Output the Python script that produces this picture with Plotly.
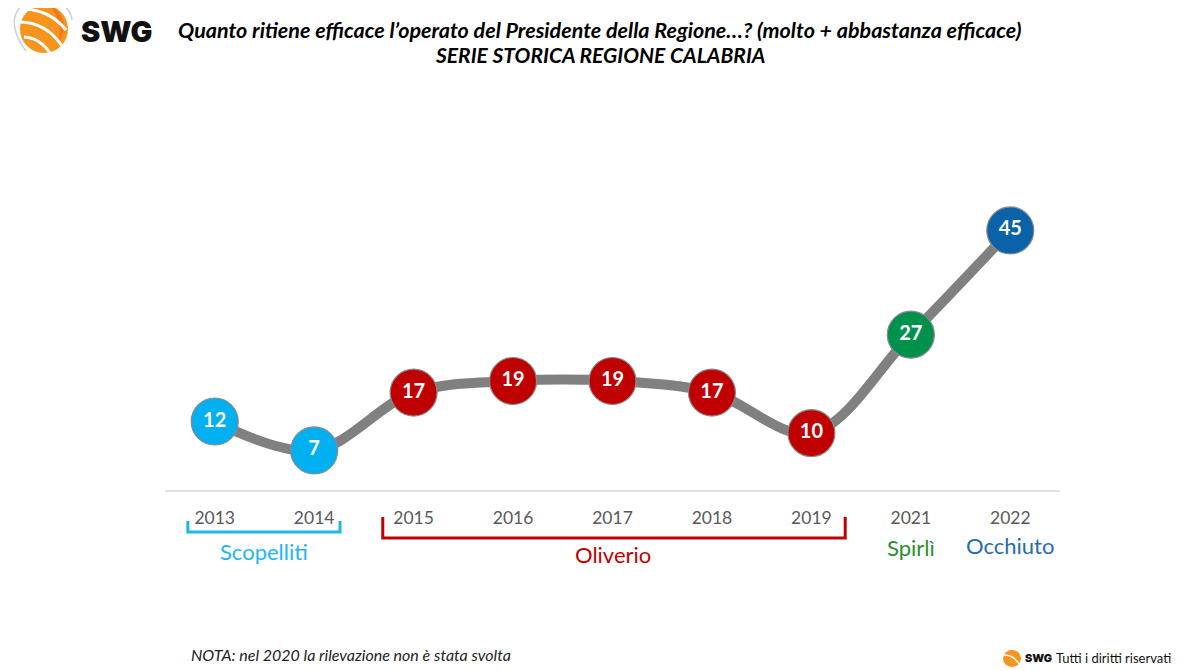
import plotly.graph_objects as go

# ---- data ----
years = ["2013", "2014", "2015", "2016", "2017", "2018", "2019", "2021", "2022"]
values = [12, 7, 17, 19, 19, 17, 10, 27, 45]
presidents = ["Scopelliti", "Scopelliti", "Oliverio", "Oliverio", "Oliverio",
              "Oliverio", "Oliverio", "Spirlì", "Occhiuto"]
president_names = ["Scopelliti", "Oliverio", "Spirlì", "Occhiuto"]
president_marker_colors = {"Scopelliti": "#00B0F0", "Oliverio": "#C00000",
                           "Spirlì": "#00914C", "Occhiuto": "#0A62A8"}
president_label_colors = {"Scopelliti": "#1FB6F0", "Oliverio": "#C00000",
                          "Spirlì": "#2A8F2A", "Occhiuto": "#1F6DB5"}
label_y = {"Scopelliti": 551, "Oliverio": 554, "Spirlì": 547, "Occhiuto": 545}

OFF = 8  # page body margin
W, H = 1200 - OFF, 671 - OFF
L, R, T, B = 165 - OFF, 140, 80 - OFF, 180
PW, PH = W - L - R, H - T - B

def px(x):
    return (x - OFF - L) / PW

def py(y):
    return (H - B - (y - OFF)) / PH

def pt(p):
    return f"{px(p[0])},{py(p[1])}"

FONT = "Lato"

fig = go.Figure()
fig.add_trace(go.Scatter(
    x=years, y=values,
    mode="lines+markers+text",
    line=dict(color="#808080", width=10, shape="spline", smoothing=1.0),
    marker=dict(size=47, color=[president_marker_colors[p] for p in presidents],
                line=dict(color="#8A8A8A", width=1.2)),
    text=[str(v) for v in values],
    textposition="middle center",
    textfont=dict(family=FONT, size=20, color="white", weight="bold"),
    cliponaxis=False,
    hoverinfo="skip",
    showlegend=False,
))

shapes = []
annotations = []

groups = {}
for i, p in enumerate(presidents):
    groups.setdefault(p, []).append(i)

bracket_spans = {"Scopelliti": (-0.27, 1.26, 521, 532), "Oliverio": (1.69, 6.34, 517, 538)}
for p in president_names:
    ids = groups[p]
    center = (ids[0] + ids[-1]) / 2
    annotations.append(dict(x=center, y=py(label_y[p]), xref="x", yref="paper",
                            text=p, showarrow=False, yanchor="middle",
                            font=dict(family=FONT, size=22, color=president_label_colors[p])))
    if p in bracket_spans:
        x0, x1, yt, yb = bracket_spans[p]
        ytop, ybot = py(yt), py(yb)
        shapes.append(dict(type="path", xref="x", yref="paper",
                           path=f"M {x0},{ytop} L {x0},{ybot} L {x1},{ybot} L {x1},{ytop}",
                           line=dict(color=president_label_colors[p], width=3)))

# axis line
shapes.append(dict(type="line", xref="paper", yref="paper", x0=0, x1=1, y0=0, y1=0,
                   line=dict(color="#D9D9D9", width=1.5)))

# logo (top-left): orange sphere with white bands and grey orbits
shapes.append(dict(type="circle", xref="paper", yref="paper",
                   x0=px(20), x1=px(68), y0=py(53), y1=py(5),
                   fillcolor="#F7941D", line=dict(width=0)))
shapes.append(dict(type="path", xref="paper", yref="paper",
                   path=f"M {pt((50,6))} Q {pt((74,18))} {pt((56,50))} Q {pt((66,26))} {pt((50,6))} Z",
                   fillcolor="#EE7A1A", line=dict(width=0)))
for a, c, d in [((24, 9), (50, 10), (66, 30)),
                ((19, 22), (46, 22), (62, 46)),
                ((24, 37), (40, 38), (50, 53))]:
    shapes.append(dict(type="path", xref="paper", yref="paper",
                       path=f"M {pt(a)} Q {pt(c)} {pt(d)}",
                       line=dict(color="white", width=3)))
shapes.append(dict(type="path", xref="paper", yref="paper",
                   path=f"M {pt((20,7))} Q {pt((6,24))} {pt((26,51))}",
                   line=dict(color="#CFCFCF", width=1.5)))
shapes.append(dict(type="path", xref="paper", yref="paper",
                   path=f"M {pt((55,3))} Q {pt((70,5))} {pt((72,20))}",
                   line=dict(color="#CFCFCF", width=1.5)))

# small footer logo
shapes.append(dict(type="circle", xref="paper", yref="paper",
                   x0=px(1003), x1=px(1021), y0=py(667), y1=py(650),
                   fillcolor="#F7941D", line=dict(width=0)))
shapes.append(dict(type="path", xref="paper", yref="paper",
                   path=f"M {pt((1003,655))} Q {pt((1013,654))} {pt((1019,664))}",
                   line=dict(color="white", width=1.5)))

annotations += [
    dict(x=px(79), y=py(31), xref="paper", yref="paper", xanchor="left", yanchor="middle",
         text="SWG", showarrow=False,
         font=dict(family="Inter", size=29, color="#111111", weight=900)),
    dict(x=px(600), y=py(30), xref="paper", yref="paper", xanchor="center", yanchor="middle",
         text="<b><i>Quanto ritiene efficace l’operato del Presidente della Regione…? (molto + abbastanza efficace)</i></b>",
         showarrow=False, font=dict(family=FONT, size=21.5, color="#000000")),
    dict(x=px(600), y=py(54), xref="paper", yref="paper", xanchor="center", yanchor="middle",
         text="<b><i>SERIE STORICA REGIONE CALABRIA</i></b>",
         showarrow=False, font=dict(family=FONT, size=21, color="#000000")),
    dict(x=px(189), y=py(654), xref="paper", yref="paper", xanchor="left", yanchor="middle",
         text="<i>NOTA: nel 2020 la rilevazione non è stata svolta</i>",
         showarrow=False, font=dict(family=FONT, size=16, color="#222222")),
    dict(x=px(1023), y=py(658), xref="paper", yref="paper", xanchor="left", yanchor="middle",
         text="SWG", showarrow=False, font=dict(family="Inter", size=11, color="#111111", weight=900)),
    dict(x=px(1054), y=py(658), xref="paper", yref="paper", xanchor="left", yanchor="middle",
         text="Tutti i diritti riservati", showarrow=False,
         font=dict(family=FONT, size=13, color="#111111")),
]

fig.update_layout(
    width=W, height=H,
    margin=dict(l=L, r=R, t=T, b=B, pad=0),
    paper_bgcolor="white", plot_bgcolor="white",
    xaxis=dict(type="category", categoryorder="array", categoryarray=years,
               range=[-0.5, len(years) - 0.5], showgrid=False, zeroline=False,
               showline=False, ticks="", ticklabelstandoff=14,
               tickfont=dict(family=FONT, size=17.5, color="#595959"), fixedrange=True),
    yaxis=dict(range=[0, PH / 5.79], visible=False, fixedrange=True),
    shapes=shapes,
    annotations=annotations,
    showlegend=False,
)

fig.write_html("out.html")
